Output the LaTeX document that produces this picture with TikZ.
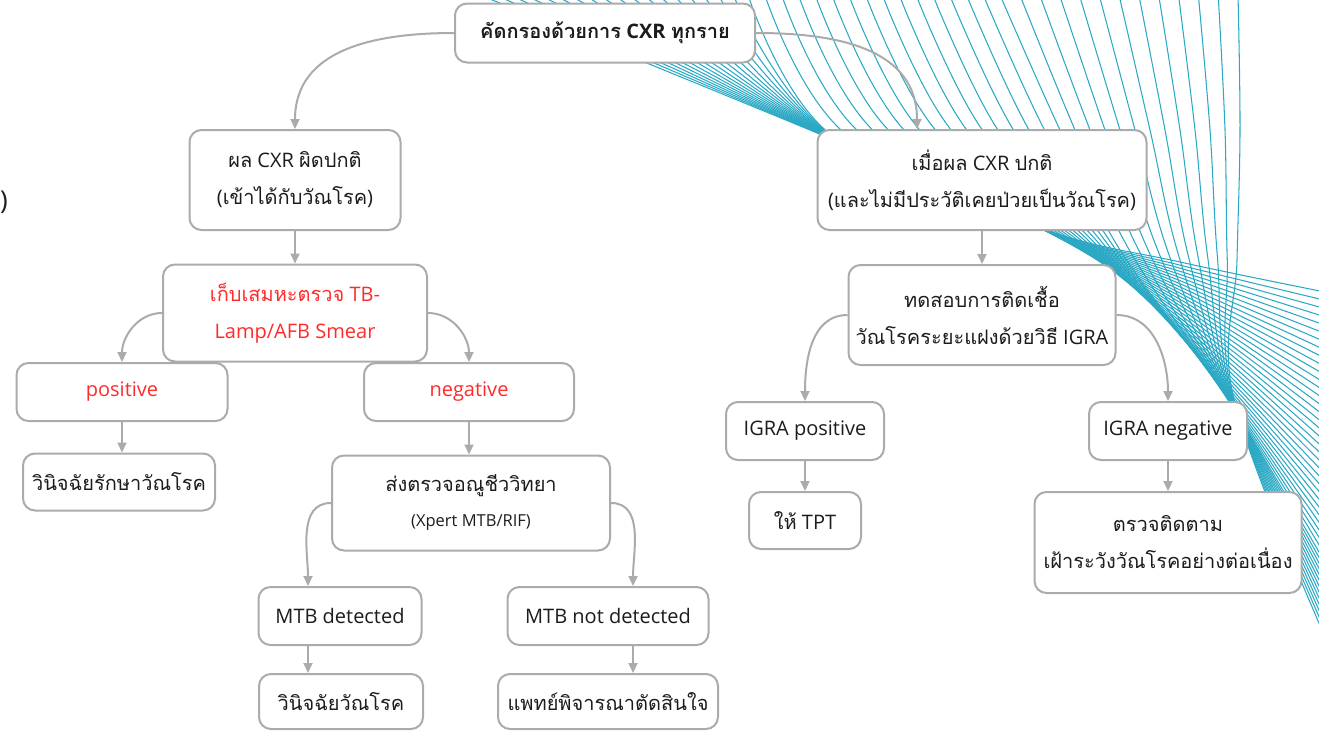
\documentclass[tikz,border=0pt]{standalone}
\usepackage{fontspec}
\setmainfont{Open Sans}
\newfontfamily\thf[Script=Thai]{Loma}
\usetikzlibrary{calc,arrows.meta}
\definecolor{boxgray}{HTML}{ABABAB}
\definecolor{fanteal}{HTML}{2AA8C4}
\definecolor{redtxt}{HTML}{FF2B2B}
\definecolor{txt}{HTML}{1C1C1C}
\newcommand\tht[1]{{\thf #1}}
\begin{document}
\begin{tikzpicture}[x=1pt,y=-1pt,
  box/.style={draw=boxgray, line width=2pt, rounded corners=12pt, fill=white,
    align=center, inner sep=0pt, font=\fontsize{20}{37}\selectfont, text=txt},
  redbox/.style={box, text=redtxt},
  arr/.style={draw=boxgray, line width=2pt, -{Triangle[length=10pt,width=9pt]}},
  fan/.style={draw=fanteal, line width=1.05pt}]
\useasboundingbox (0,0) rectangle (1319,731);
% decorative fan of lines
\coordinate (A0) at (480,-5);  \coordinate (A1) at (822,135); \coordinate (A2) at (1040,228);
\coordinate (A3) at (1180,262); \coordinate (A4) at (1335,294);
\coordinate (B0) at (748,-5);  \coordinate (B1) at (830,134); \coordinate (B2) at (1046,231);
\coordinate (B3) at (1180,318); \coordinate (B4) at (1335,450);
\coordinate (C0) at (1000,-5); \coordinate (C1) at (1060,130); \coordinate (C2) at (1120,250);
\coordinate (C3) at (1228,400); \coordinate (C4) at (1335,580);
\coordinate (D0) at (1238,-5); \coordinate (D1) at (1240,130); \coordinate (D2) at (1237,260);
\coordinate (D3) at (1234,400); \coordinate (D4) at (1322,630);
\begin{scope}
\clip (0,0) rectangle (1319,731);
\foreach \k in {0,...,17} {
  \pgfmathsetmacro\s{\k/18}
  \draw[fan] plot[smooth,tension=0.6] coordinates {($(A0)!\s!(B0)$) ($(A1)!\s!(B1)$) ($(A2)!\s!(B2)$) ($(A3)!\s!(B3)$) ($(A4)!\s!(B4)$)};
}
\foreach \k in {0,...,14} {
  \pgfmathsetmacro\s{\k/15}
  \draw[fan] plot[smooth,tension=0.6] coordinates {($(B0)!\s!(C0)$) ($(B1)!\s!(C1)$) ($(B2)!\s!(C2)$) ($(B3)!\s!(C3)$) ($(B4)!\s!(C4)$)};
}
\foreach \k in {0,...,12} {
  \pgfmathsetmacro\s{\k/12}
  \draw[fan] plot[smooth,tension=0.6] coordinates {($(C0)!\s!(D0)$) ($(C1)!\s!(D1)$) ($(C2)!\s!(D2)$) ($(C3)!\s!(D3)$) ($(C4)!\s!(D4)$)};
}
\end{scope}
% stray parenthesis at left edge
\node[font=\fontsize{26}{30}\selectfont, anchor=east, inner sep=0pt, text=txt] (paren) at (8,202) {)};
% nodes
\node[box, minimum width=300pt, minimum height=59pt] (top) at (605,33) {\bfseries\tht{คัดกรองด้วยการ} CXR \tht{ทุกราย}};
\node[box, minimum width=211pt, minimum height=100pt] (b2) at (295,180) {\tht{ผล} CXR \tht{ผิดปกติ}\\(\tht{เข้าได้กับวัณโรค})};
\node[redbox, minimum width=264pt, minimum height=97pt] (b3) at (295,313) {\tht{เก็บเสมหะตรวจ} TB-\\Lamp/AFB Smear};
\node[redbox, minimum width=211pt, minimum height=58pt] (b4) at (122,392) {positive};
\node[redbox, minimum width=210pt, minimum height=58pt] (b5) at (469,392) {negative};
\node[box, minimum width=192pt, minimum height=57pt] (b6) at (119,482) {\tht{วินิจฉัยรักษาวัณโรค}};
\node[box, minimum width=278pt, minimum height=95pt] (b7) at (471,503) {\tht{ส่งตรวจอณูชีววิทยา}\\[-2pt]{\fontsize{16.5}{20}\selectfont (Xpert MTB/RIF)}};
\node[box, minimum width=163pt, minimum height=58pt] (b8) at (340,616) {MTB detected};
\node[box, minimum width=201pt, minimum height=58pt] (b9) at (608,616) {MTB not detected};
\node[box, minimum width=164pt, minimum height=55pt] (b10) at (341,701.5) {\tht{วินิจฉัยวัณโรค}};
\node[box, minimum width=220pt, minimum height=55pt] (b11) at (608,701.5) {\tht{แพทย์พิจารณาตัดสินใจ}};
\node[box, minimum width=329pt, minimum height=100pt] (b12) at (982,180) {\tht{เมื่อผล} CXR \tht{ปกติ}\\(\tht{และไม่มีประวัติเคยป่วยเป็นวัณโรค})};
\node[box, minimum width=267pt, minimum height=100pt] (b13) at (982,315) {\tht{ทดสอบการติดเชื้อ}\\\tht{วัณโรคระยะแฝงด้วยวิธี} IGRA};
\node[box, minimum width=158pt, minimum height=58pt] (b14) at (805,431) {IGRA positive};
\node[box, minimum width=112pt, minimum height=57pt] (b15) at (805,520.5) {\tht{ให้} TPT};
\node[box, minimum width=158pt, minimum height=58pt] (b16) at (1168,431) {IGRA negative};
\node[box, minimum width=267pt, minimum height=101pt] (b17) at (1168,542.5) {\tht{ตรวจติดตาม}\\\tht{เฝ้าระวังวัณโรคอย่างต่อเนื่อง}};
% entry points
\coordinate (b12in) at ($(b12.north)+(-65,0)$);
\coordinate (b8in) at ($(b8.north)+(-32,0)$);
\coordinate (b9in) at ($(b9.north)+(25,0)$);
% connectors
\draw[arr] (top.west) to[out=180,in=90,looseness=1.1] (b2.north);
\draw[arr] (top.east) to[out=0,in=90,looseness=1.1] (b12in);
\draw[arr] (b2.south) -- (b3.north);
\draw[arr] (b3.west) to[out=180,in=90] (b4.north);
\draw[arr] (b3.east) to[out=0,in=90] (b5.north);
\draw[arr] (b4.south) -- (b4.south |- b6.north);
\draw[arr] (b5.south) -- (b5.south |- b7.north);
\draw[arr] (b7.west) to[out=180,in=90] (b8in);
\draw[arr] (b7.east) to[out=0,in=90] (b9in);
\draw[arr] (b8in |- b8.south) -- (b8in |- b10.north);
\draw[arr] (b9in |- b9.south) -- (b9in |- b11.north);
\draw[arr] (b12.south) -- (b13.north);
\draw[arr] (b13.west) to[out=180,in=90] (b14.north);
\draw[arr] (b13.east) to[out=0,in=90] (b16.north);
\draw[arr] (b14.south) -- (b15.north);
\draw[arr] (b16.south) -- (b17.north);
\end{tikzpicture}
\end{document}
